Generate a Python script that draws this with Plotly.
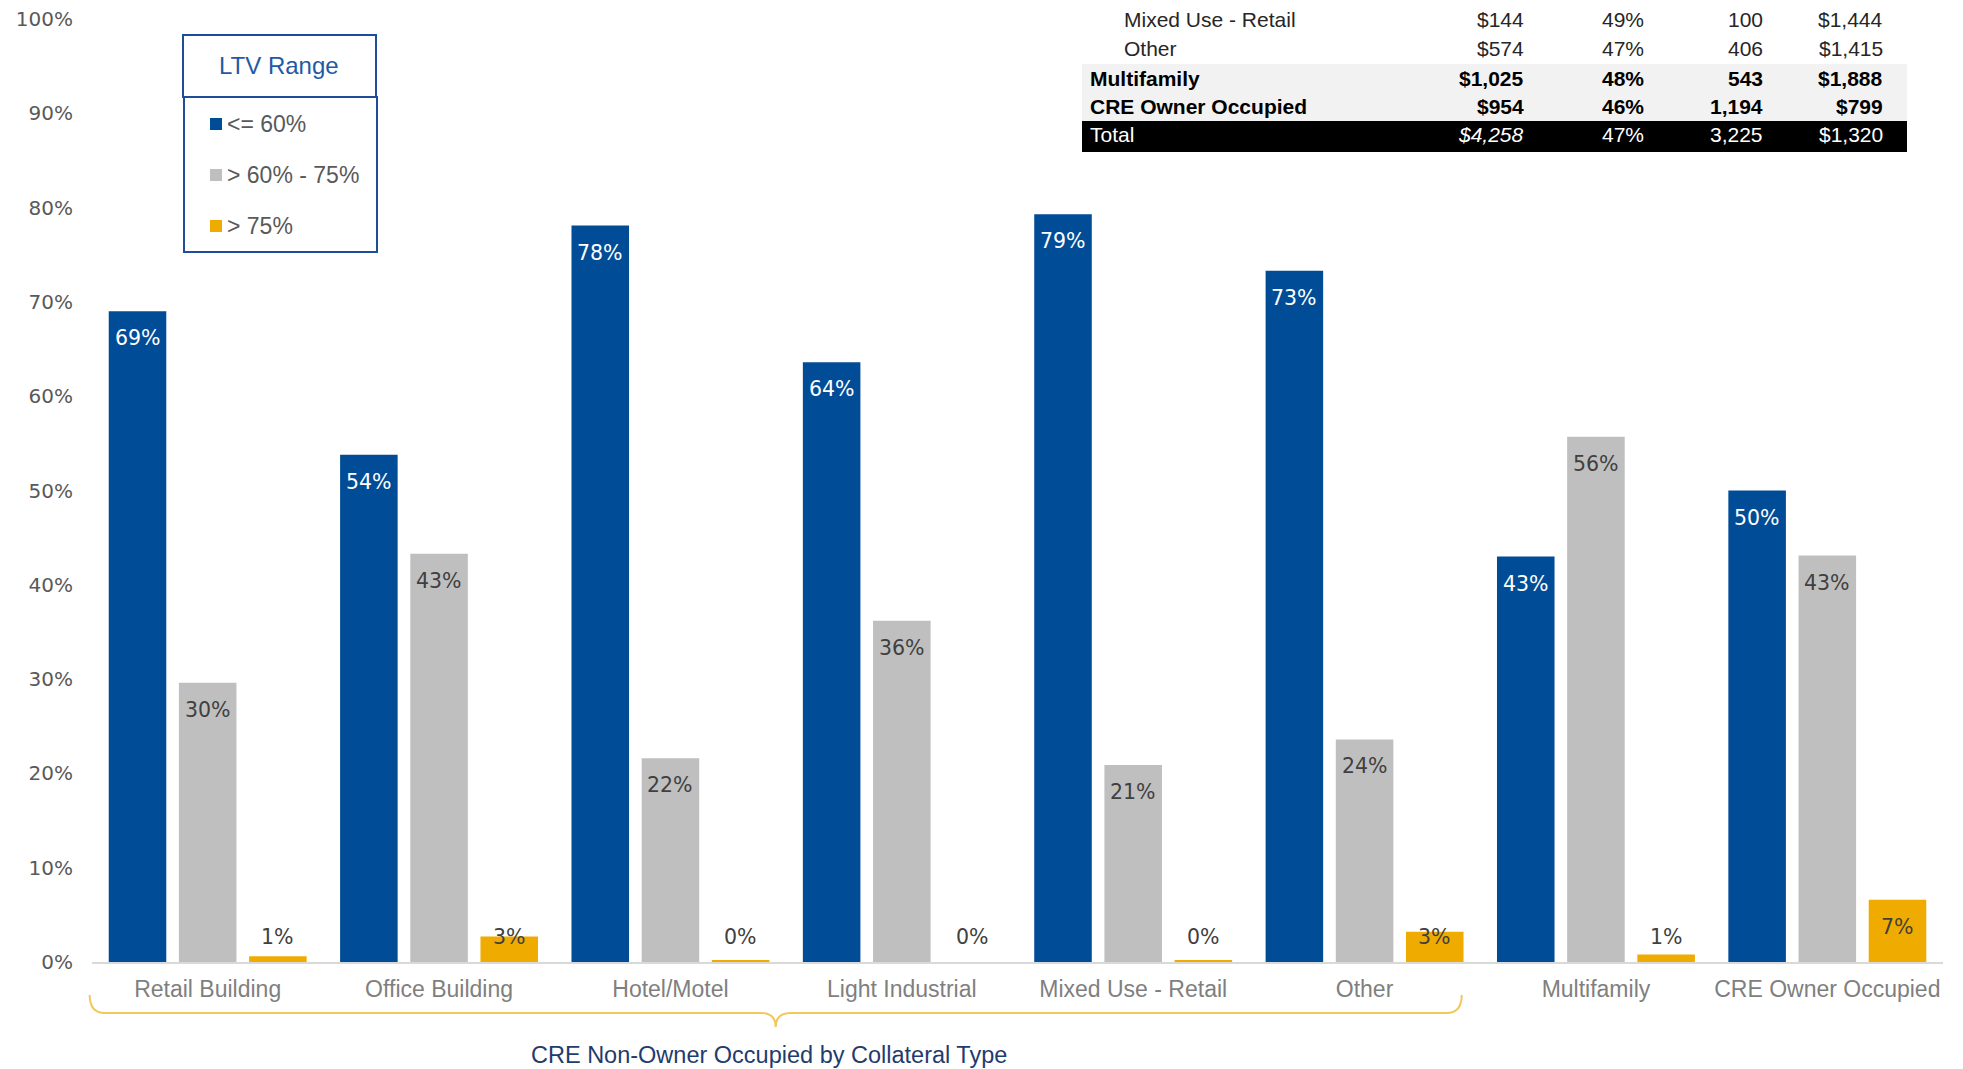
import plotly.graph_objects as go

# ---- data -------------------------------------------------------------
categories = ["Retail Building", "Office Building", "Hotel/Motel", "Light Industrial",
              "Mixed Use - Retail", "Other", "Multifamily", "CRE Owner Occupied"]
ltv_le_60 = [69.0, 53.8, 78.1, 63.6, 79.3, 73.3, 43.0, 50.0]
ltv_60_75 = [29.6, 43.3, 21.6, 36.2, 20.9, 23.6, 55.7, 43.1]
ltv_gt_75 = [0.6, 2.7, 0.2, 0.0, 0.2, 3.2, 0.8, 6.6]
series_names = ["<= 60%", "> 60% - 75%", "> 75%"]
y_ticks = list(range(0, 101, 10))

non_owner_first, non_owner_last = 0, 5
non_owner_label = "CRE Non-Owner Occupied by Collateral Type"
legend_title = "LTV Range"

table_rows = ["Mixed Use - Retail", "Other", "Multifamily", "CRE Owner Occupied", "Total"]
table_balance = ["$144", "$574", "$1,025", "$954", "$4,258"]
table_ltv = ["49%", "47%", "48%", "46%", "47%"]
table_count = ["100", "406", "543", "1,194", "3,225"]
table_avg = ["$1,444", "$1,415", "$1,888", "$799", "$1,320"]

# ---- geometry / style ---------------------------------------------------
W, H = 1963, 1069
ML, MR, MT, MB = 92, 20, 19, 107
PW, PH = W - ML - MR, H - MT - MB
FONT = "Arial, Liberation Sans, sans-serif"
WIDE_FONT = "Verdana, DejaVu Sans, sans-serif"
BLUE, GREY, GOLD = "#004C97", "#BFBFBF", "#F0AB00"
colors = [BLUE, GREY, GOLD]
label_colors = ["white", "#404040", "#404040"]
BARGAP, GROUPGAP = 0.09, 0.18
n_cat = len(categories)


def px_x(px):
    return (px - ML) / PW


def px_y(py):
    return (H - MB - py) / PH


def cat_x(c):
    # category index -> paper x
    return (c + 0.5) / n_cat


fig = go.Figure()
series = [ltv_le_60, ltv_60_75, ltv_gt_75]
xs = list(range(n_cat))
for name, vals, col in zip(series_names, series, colors):
    fig.add_trace(go.Bar(x=xs, y=vals, name=name, marker_color=col,
                         marker_line_width=0, showlegend=False, hoverinfo="skip"))

annotations = []
shapes = []

# value labels near the top of each bar
slot = (1 - BARGAP) / 3
px_per_unit = PH / 100
for k, vals in enumerate(series):
    for i, v in enumerate(vals):
        top_px = v * px_per_unit
        if top_px - 27 >= 25:
            y, shift = v, -27
        else:
            y, shift = 0, 25
        annotations.append(dict(
            x=i + (k - 1) * slot, y=y, xref="x", yref="y", yshift=shift,
            text=f"{v:.0f}%", showarrow=False, xanchor="center", yanchor="middle",
            font=dict(family=WIDE_FONT, size=20.5, color=label_colors[k])))

# legend box
shapes.append(dict(type="rect", xref="paper", yref="paper",
                   x0=px_x(183), x1=px_x(376), y0=px_y(97), y1=px_y(35),
                   line=dict(color="#1F4E99", width=2), fillcolor="white"))
shapes.append(dict(type="rect", xref="paper", yref="paper",
                   x0=px_x(184), x1=px_x(377), y0=px_y(252), y1=px_y(97),
                   line=dict(color="#1F4E99", width=2), fillcolor="white"))
annotations.append(dict(x=px_x(279), y=px_y(65), xref="paper", yref="paper",
                        text=legend_title, showarrow=False, xanchor="center", yanchor="middle",
                        font=dict(family=FONT, size=24, color="#1F5AA6")))
for j, (name, col) in enumerate(zip(series_names, colors)):
    cy = 124 + j * 51
    shapes.append(dict(type="rect", xref="paper", yref="paper",
                       x0=px_x(210), x1=px_x(222), y0=px_y(cy + 6), y1=px_y(cy - 6),
                       line=dict(width=0), fillcolor=col))
    annotations.append(dict(x=px_x(225), y=px_y(cy), xref="paper", yref="paper",
                            text=name, showarrow=False, xanchor="left", yanchor="middle",
                            font=dict(family=FONT, size=23, color="#595959")))

# summary table (top right)
shapes.append(dict(type="rect", xref="paper", yref="paper", layer="below",
                   x0=px_x(1082), x1=px_x(1907), y0=px_y(121), y1=px_y(64),
                   line=dict(width=0), fillcolor="#F2F2F2"))
shapes.append(dict(type="rect", xref="paper", yref="paper", layer="below",
                   x0=px_x(1082), x1=px_x(1907), y0=px_y(152), y1=px_y(121),
                   line=dict(width=0), fillcolor="black"))
col_rights = [1526, 1646, 1765, 1885]
row_y = [20, 49, 78, 106, 135]
for r, label in enumerate(table_rows):
    if r < 2:
        lx, color, fmt = 1122, "#262626", "{}"
    elif r < 4:
        lx, color, fmt = 1088, "black", "<b>{}</b>"
    else:
        lx, color, fmt = 1088, "white", "{}"
    tf = dict(family=FONT, size=21, color=color)
    annotations.append(dict(x=px_x(lx), y=px_y(row_y[r]), xref="paper", yref="paper",
                            text=fmt.format(label), showarrow=False, xanchor="left",
                            yanchor="middle", font=tf))
    cells = [table_balance[r], table_ltv[r], table_count[r], table_avg[r]]
    for c, (cell, xr) in enumerate(zip(cells, col_rights)):
        txt = fmt.format(cell)
        if r == 4 and c == 0:
            txt = f"<i>{cell}</i>"
        annotations.append(dict(x=px_x(xr), y=px_y(row_y[r]), xref="paper", yref="paper",
                                text=txt, showarrow=False, xanchor="right",
                                yanchor="middle", font=tf))

# brace under the non-owner-occupied categories
bl = cat_x(non_owner_first) - 0.51 / n_cat
br = cat_x(non_owner_last) + 0.42 / n_cat
bc = (bl + br) / 2
y_top, y_mid, y_tip = px_y(995), px_y(1013), px_y(1027)
r = 15 / PW
brace = (f"M {bl},{y_top} Q {bl},{y_mid} {bl + r},{y_mid} "
         f"L {bc - r},{y_mid} Q {bc},{y_mid} {bc},{y_tip} "
         f"Q {bc},{y_mid} {bc + r},{y_mid} "
         f"L {br - r},{y_mid} Q {br},{y_mid} {br},{y_top}")
shapes.append(dict(type="path", xref="paper", yref="paper", path=brace,
                   line=dict(color="#F2C75C", width=2)))
annotations.append(dict(x=bc - 7 / PW, y=px_y(1055), xref="paper", yref="paper",
                        text=non_owner_label, showarrow=False, xanchor="center",
                        yanchor="middle", font=dict(family=FONT, size=23.5, color="#1F3C6E")))

fig.update_layout(
    width=W, height=H,
    margin=dict(l=ML, r=MR, t=MT, b=MB, pad=0),
    paper_bgcolor="white", plot_bgcolor="white",
    barmode="group", bargap=BARGAP, bargroupgap=GROUPGAP,
    showlegend=False,
    annotations=annotations, shapes=shapes,
    xaxis=dict(range=[-0.5, n_cat - 0.5], tickvals=xs, ticktext=categories,
               showgrid=False, zeroline=False, showline=True, linecolor="#D9D9D9",
               linewidth=2, ticks="", ticklabelstandoff=5, automargin=False,
               tickfont=dict(family=FONT, size=23, color="#7F7F7F")),
    yaxis=dict(range=[0, 100], tickvals=y_ticks, ticktext=[f"{t}%" for t in y_ticks],
               showgrid=False, zeroline=False, showline=False, ticks="",
               ticklabelstandoff=18, automargin=False,
               tickfont=dict(family=WIDE_FONT, size=20, color="#595959")),
)

fig.write_html("out.html")
